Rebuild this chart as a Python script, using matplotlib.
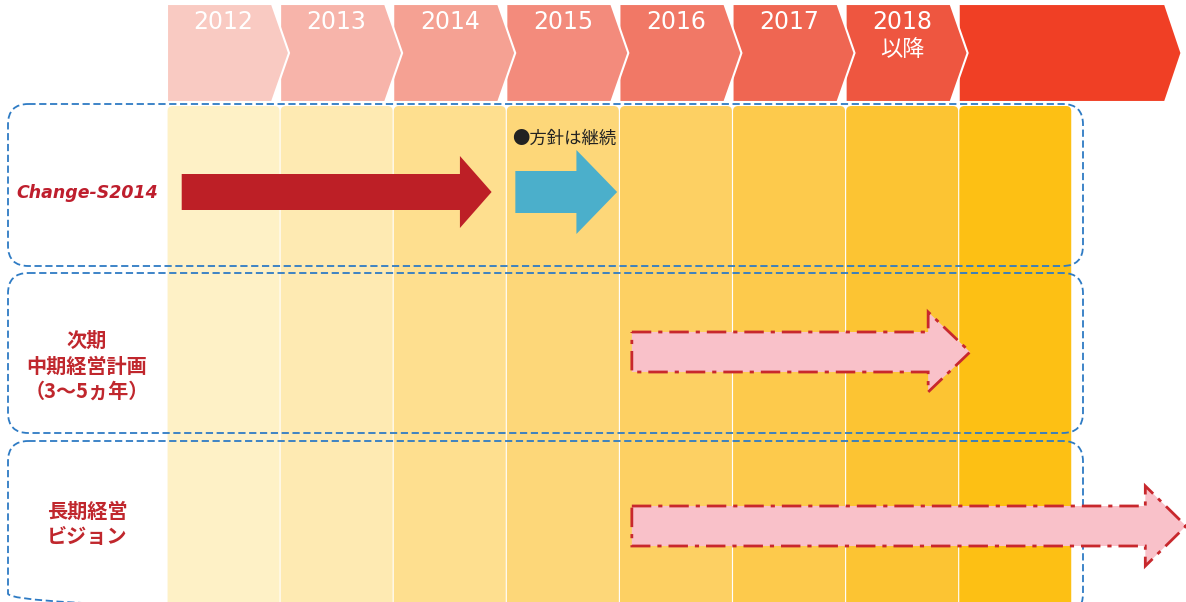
import matplotlib.pyplot as plt
from matplotlib.patches import Polygon, FancyBboxPatch

plt.rcParams['font.family'] = ['Noto Sans CJK JP', 'DejaVu Sans']

# column headers (years), last column has no label
years = [2012, 2013, 2014, 2015, 2016, 2017, 2018, 2019]
year_labels = ['2012', '2013', '2014', '2015', '2016', '2017', '2018\n以降', '']
head_colors = ['#F9CAC2', '#F7B4AA', '#F5A193', '#F38B7C', '#F17866', '#EF6652', '#EE5640', '#F03F25']
body_colors = ['#FEF1C6', '#FEEAB2', '#FEDF8F', '#FDD779', '#FDD063', '#FDCA4C', '#FCC433', '#FDC014']

# rows: label, dashed box top/bottom (px)
row_labels = ['Change-S2014', '次期\n中期経営計画\n（3〜5ヵ年）', '長期経営\nビジョン']
row_box_top = [104, 273, 441]
row_box_bot = [266, 433, 614]

# arrows: start year, end year, y centre, shaft half-height, head half-height
arrow_start = [2012.13, 2015.08, 2016.11, 2016.11]
arrow_end = [2014.87, 2015.98, 2019.10, 2021.01]
arrow_y = [192, 192, 352, 526]
arrow_shaft = [18, 21, 20, 20]
arrow_head = [36, 42, 40, 40]
arrow_headlen = [0.28, 0.36, 0.37, 0.36]
arrow_face = ['#BD1F26', '#4BAFCB', '#F9C1C9', '#F9C1C9']
arrow_edge = ['none', 'none', '#C8282D', '#C8282D']

PX = 113.1  # pixels per year column
fig = plt.figure(figsize=(11.86, 6.02), dpi=100)
ax = fig.add_axes([0, 0, 1, 1])
ax.set_xlim(2012 - 167 / PX, 2012 + (1186 - 167) / PX)
ax.set_ylim(602, 0)
ax.axis('off')

# column bodies
for i, yr in enumerate(years):
    b = FancyBboxPatch((yr + 0.005, 106), 1 - 0.01, 520,
                       boxstyle='round,pad=0,rounding_size=0.045',
                       mutation_aspect=PX, fc=body_colors[i], ec='none', zorder=1)
    ax.add_patch(b)

# header chevrons, drawn right to left so tips overlap the next one
for i in range(len(years) - 1, -1, -1):
    yr = years[i]
    if i == len(years) - 1:
        right, tip = yr + 1.824, yr + 1.97
    else:
        right, tip = yr + 0.928, yr + 1.079
    pts = [(yr, 4), (right, 4), (tip, 53), (right, 102), (yr, 102)]
    ax.add_patch(Polygon(pts, closed=True, fc=head_colors[i], ec='white', lw=1.5, zorder=2))
    if year_labels[i]:
        lines = year_labels[i].split('\n')
        ax.text(yr + 0.5, 22, lines[0], color='white', fontsize=17, ha='center', va='center',
                family=['DejaVu Sans'], zorder=3)
        if len(lines) > 1:
            ax.text(yr + 0.5, 50, lines[1], color='white', fontsize=16, ha='center', va='center', zorder=3)

# dashed row boxes
for t, b in zip(row_box_top, row_box_bot):
    box = FancyBboxPatch((2012 - 159 / PX, t), (1083 - 8) / PX, b - t,
                         boxstyle='round,pad=0,rounding_size=0.18', mutation_aspect=PX,
                         fc='none', ec='#2E7BC4', lw=1.3, ls=(0, (4, 2)), zorder=4)
    ax.add_patch(box)

# row labels
lx = 2012 - 80 / PX
ax.text(lx, 193, row_labels[0], color='#BE1E2D', fontsize=12.5, fontweight='heavy', style='italic',
        ha='center', va='center', family=['DejaVu Sans'], zorder=5)
ax.text(lx, 366, row_labels[1], color='#C0272D', fontsize=14.5, fontweight='bold',
        ha='center', va='center', linespacing=1.25, zorder=5)
ax.text(lx, 524, row_labels[2], color='#C0272D', fontsize=14.5, fontweight='bold',
        ha='center', va='center', linespacing=1.25, zorder=5)

# arrows
for s, e, yc, sh, hh, hl, fc, ec in zip(arrow_start, arrow_end, arrow_y, arrow_shaft,
                                         arrow_head, arrow_headlen, arrow_face, arrow_edge):
    hx = e - hl
    pts = [(s, yc - sh), (hx, yc - sh), (hx, yc - hh), (e, yc),
           (hx, yc + hh), (hx, yc + sh), (s, yc + sh)]
    ax.add_patch(Polygon(pts, closed=True, fc=fc, ec=ec, lw=2.0,
                         ls=(0, (7, 2.5, 1.5, 2.5)), zorder=6, clip_on=False))

ax.text(2015.05, 139, '●方針は継続', color='#222222', fontsize=12.5, ha='left', va='center', zorder=7)

fig.savefig('out.png', dpi=100)
